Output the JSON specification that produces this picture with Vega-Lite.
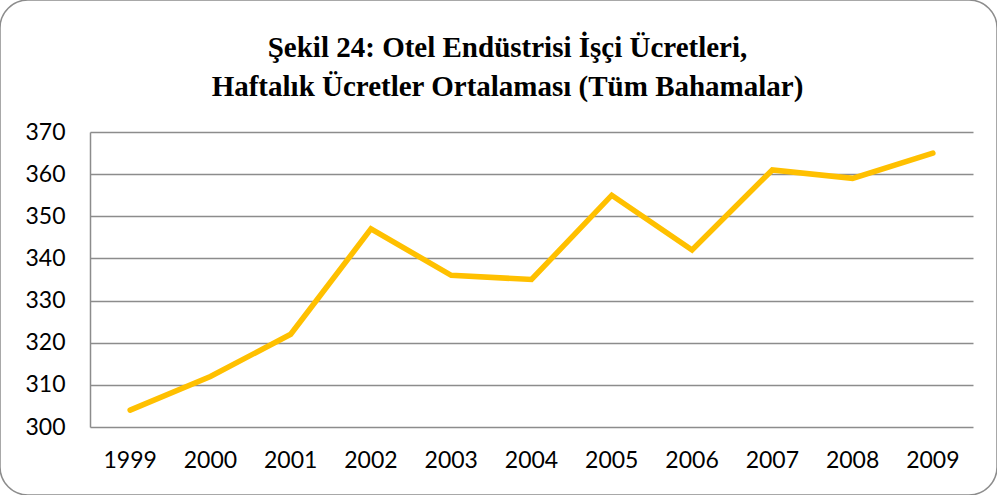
{
  "$schema": "https://vega.github.io/schema/vega-lite/v6.json",
  "width": 997,
  "height": 495,
  "autosize": "none",
  "padding": 0,
  "background": "white",
  "config": {
    "view": {"stroke": "#8c8c8c", "strokeWidth": 1.5, "cornerRadius": 28},
    "axis": {"labelFont": "Lato", "labelFontSize": 23, "labelColor": "#000000"}
  },
  "title": {
    "text": ["Şekil 24: Otel Endüstrisi İşçi Ücretleri,", "Haftalık Ücretler Ortalaması (Tüm Bahamalar)"],
    "font": "Liberation Serif",
    "fontSize": 29,
    "fontWeight": "bold",
    "color": "#000000",
    "lineHeight": 39,
    "anchor": "middle",
    "frame": "group",
    "offset": -102,
    "dx": 9
  },
  "data": {
    "values": [
      {"year": "1999", "wage": 304},
      {"year": "2000", "wage": 312},
      {"year": "2001", "wage": 322},
      {"year": "2002", "wage": 347},
      {"year": "2003", "wage": 336},
      {"year": "2004", "wage": 335},
      {"year": "2005", "wage": 355},
      {"year": "2006", "wage": 342},
      {"year": "2007", "wage": 361},
      {"year": "2008", "wage": 359},
      {"year": "2009", "wage": 365}
    ]
  },
  "mark": {"type": "line", "color": "#FFC000", "strokeWidth": 5.5, "strokeCap": "round", "strokeJoin": "miter"},
  "encoding": {
    "x": {
      "field": "year",
      "type": "ordinal",
      "scale": {"type": "band", "range": [90, 973], "paddingInner": 0, "paddingOuter": 0},
      "axis": {
        "title": null,
        "labelAngle": 0,
        "domain": false,
        "ticks": false,
        "grid": false,
        "offset": -68,
        "labelPadding": 22
      }
    },
    "y": {
      "field": "wage",
      "type": "quantitative",
      "scale": {"domain": [300, 370], "range": [427, 132], "nice": false, "zero": false},
      "axis": {
        "title": null,
        "values": [300, 310, 320, 330, 340, 350, 360, 370],
        "domain": true,
        "domainColor": "#8c8c8c",
        "domainWidth": 1.5,
        "ticks": false,
        "grid": true,
        "gridColor": "#8c8c8c",
        "gridWidth": 1.5,
        "offset": -90,
        "labelPadding": 25
      }
    }
  }
}
